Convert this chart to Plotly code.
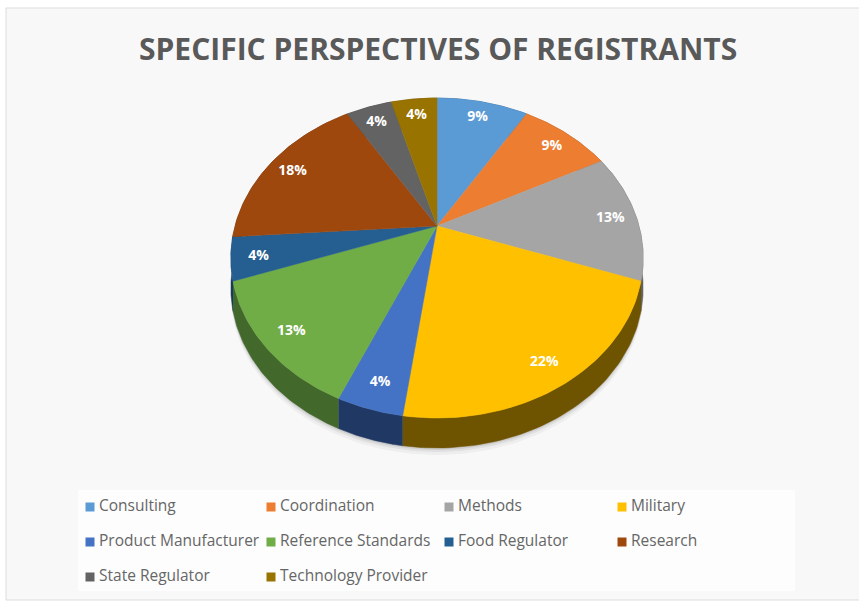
import numpy as np
import plotly.graph_objects as go

categories = ["Consulting", "Coordination", "Methods", "Military", "Product Manufacturer",
              "Reference Standards", "Food Regulator", "Research", "State Regulator", "Technology Provider"]
registrants = [2, 2, 3, 5, 1, 3, 1, 4, 1, 1]
pct_labels = ["9%", "9%", "13%", "22%", "4%", "13%", "4%", "18%", "4%", "4%"]
colors = ["#5B9BD5", "#ED7D31", "#A5A5A5", "#FFC000", "#4472C4",
          "#70AD47", "#255E91", "#9E480E", "#636363", "#997300"]
rim_colors = ["#2E5A80", "#8A4A1D", "#606060", "#6E5300", "#203864",
              "#43682B", "#163A5C", "#5E2C08", "#3C3C3C", "#5C4500"]

CX, CY, A, B, K, DEPTH = 437, 226, 202, 153.6, 0.2, 30
LABEL_R = 0.87

def project(theta, r=1.0, drop=0.0):
    u = r * np.sin(theta)
    v = -r * np.cos(theta)
    d = 1 - K * v
    return CX + A * u / d, CY + B * v / d + drop

vals = np.array(registrants, dtype=float)
edges = np.concatenate([[0], np.cumsum(vals)]) / vals.sum() * 2 * np.pi

fig = go.Figure()

fig.add_shape(type="rect", x0=6, y0=8, x1=862, y1=600, fillcolor="#F8F8F8",
              line=dict(color="#DDDDDD", width=1), layer="below")
fig.add_shape(type="rect", x0=78, y0=490, x1=795, y1=591, fillcolor="#FDFDFD",
              line=dict(width=0), layer="below")

for grow, alpha in [(7, 0.04), (4, 0.06), (2, 0.08)]:
    t = np.linspace(np.pi / 2, 3 * np.pi / 2, 120)
    x, y = project(t, 1.0, DEPTH + grow)
    fig.add_trace(go.Scatter(x=x, y=y, mode="lines", fill="toself", line=dict(width=0),
                             fillcolor=f"rgba(0,0,0,{alpha})", hoverinfo="skip", showlegend=False))

for i in range(len(vals)):
    t = np.linspace(edges[i], edges[i + 1], 60)
    xt, yt = project(t)
    xb, yb = project(t, 1.0, DEPTH)
    fig.add_trace(go.Scatter(x=np.r_[xt, xb[::-1]], y=np.r_[yt, yb[::-1]], mode="lines",
                             fill="toself", fillcolor=rim_colors[i],
                             line=dict(width=0.5, color=rim_colors[i]),
                             hoverinfo="skip", showlegend=False))
for i, name in enumerate(categories):
    t = np.linspace(edges[i], edges[i + 1], 60)
    x, y = project(t)
    fig.add_trace(go.Scatter(x=np.r_[CX, x, CX], y=np.r_[CY, y, CY], mode="lines",
                             fill="toself", fillcolor=colors[i],
                             line=dict(width=0.5, color=colors[i]),
                             name=name, showlegend=False, hoverinfo="name"))
mid = (edges[:-1] + edges[1:]) / 2
lx, ly = project(mid, LABEL_R, 2)
fig.add_trace(go.Scatter(x=lx, y=ly, mode="text", text=pct_labels, showlegend=False, hoverinfo="skip",
                         textposition="middle center",
                         textfont=dict(family="Open Sans", size=14, color="#FFFFFF", weight="bold")))

col_x = [90, 271, 449, 622]
row_y = [507, 542, 577]
for i, name in enumerate(categories):
    px, py = col_x[i % 4], row_y[i // 4]
    fig.add_trace(go.Scatter(x=[px], y=[py], mode="markers",
                             marker=dict(symbol="square", size=9, color=colors[i]),
                             hoverinfo="skip", showlegend=False))
    fig.add_trace(go.Scatter(x=[px + 9], y=[py], mode="text", text=[name],
                             textposition="middle right",
                             textfont=dict(family="Open Sans", size=15.5, color="#666666"),
                             hoverinfo="skip", showlegend=False))

fig.add_annotation(text="<b>SPECIFIC PERSPECTIVES OF REGISTRANTS</b>", x=438, y=48, showarrow=False,
                   font=dict(family="Open Sans", size=30, color="#595959"))

fig.update_xaxes(range=[0, 859], visible=False, fixedrange=True)
fig.update_yaxes(range=[603, 0], visible=False, fixedrange=True)
fig.update_layout(width=859, height=603, margin=dict(l=0, r=0, t=0, b=0),
                  paper_bgcolor="#FFFFFF", plot_bgcolor="rgba(0,0,0,0)")
fig.write_html("out.html", config={"displayModeBar": False},
               post_script="document.body.style.margin='0';")
